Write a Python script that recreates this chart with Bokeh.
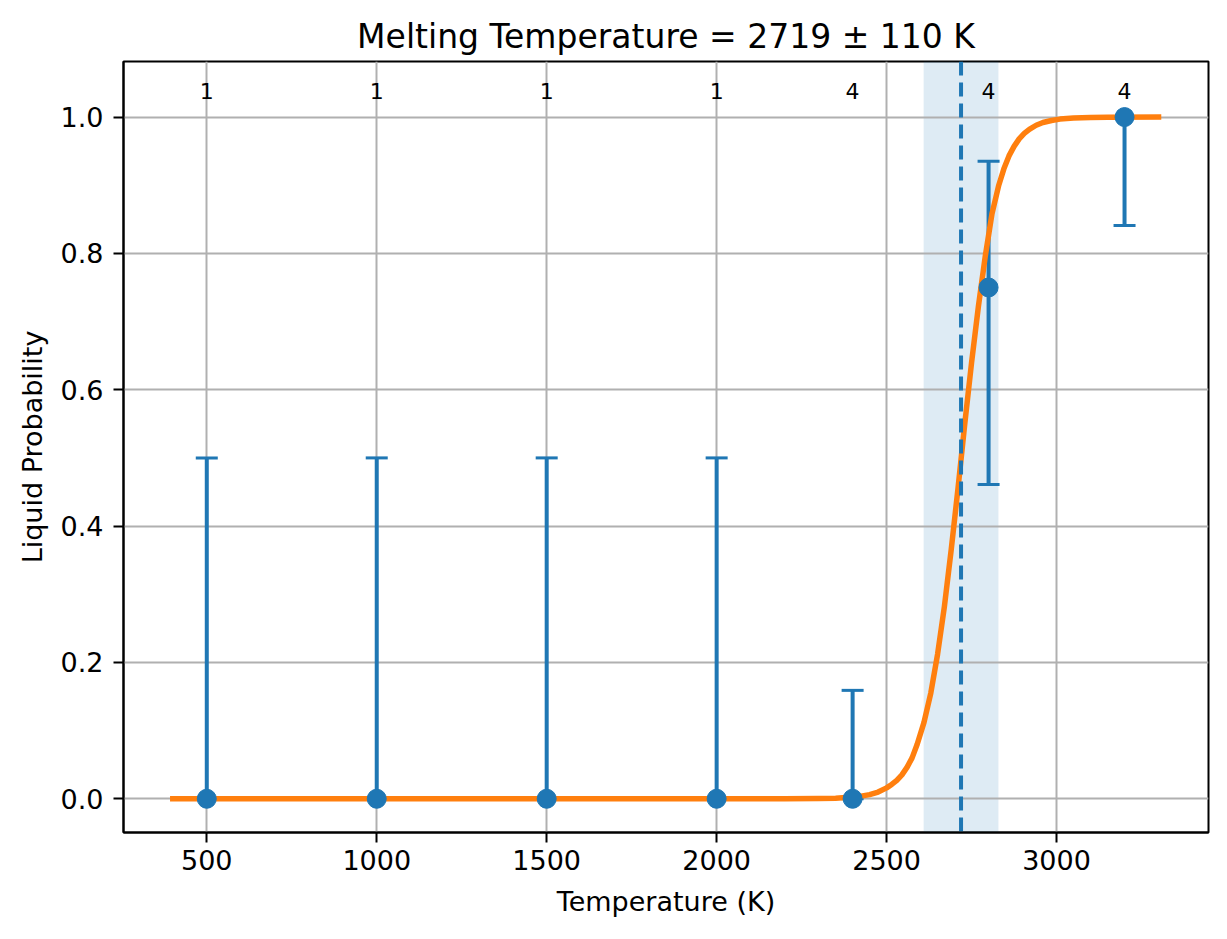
from bokeh.plotting import figure
from bokeh.models import ColumnDataSource, Span, BoxAnnotation, FixedTicker, Range1d
from bokeh.core.properties import value
from bokeh.embed import file_html
from bokeh.resources import INLINE

# measured points: temperature, liquid probability and error bounds
temps = [500, 1000, 1500, 2000, 2400, 2800, 3200]
prob = [0.0, 0.0, 0.0, 0.0, 0.0, 0.75, 1.0]
err_lo = [0.0, 0.0, 0.0, 0.0, 0.0, 0.461, 0.841]
err_hi = [0.5, 0.5, 0.5, 0.5, 0.159, 0.935, 1.0]
counts = ["1", "1", "1", "1", "4", "4", "4"]

# fitted curve
fit_t = [400, 2000, 2200, 2300, 2350, 2400, 2425, 2450, 2475, 2500, 2515, 2530,
         2545, 2560, 2575, 2590, 2610, 2630, 2650, 2670, 2690, 2710, 2730, 2750,
         2770, 2790, 2810, 2830, 2845, 2860, 2875, 2890, 2905, 2920, 2940, 2960,
         2985, 3010, 3050, 3100, 3150, 3300]
fit_p = [0.0, 0.0, 0.0001, 0.0004, 0.0009, 0.0024, 0.0038, 0.006, 0.0098, 0.016,
         0.021, 0.027, 0.035, 0.046, 0.060, 0.080, 0.112, 0.155, 0.212, 0.282,
         0.365, 0.455, 0.550, 0.640, 0.722, 0.795, 0.858, 0.900, 0.924, 0.943,
         0.957, 0.968, 0.976, 0.982, 0.988, 0.992, 0.995, 0.997, 0.9985, 0.9993,
         0.9997, 1.0]

t_melt = 2719
t_err = 110

x_ticks = [500, 1000, 1500, 2000, 2500, 3000]
y_ticks = [0.0, 0.2, 0.4, 0.6, 0.8, 1.0]

BLUE = "#1f77b4"
ORANGE = "#ff7f0e"
FONT = "DejaVu Sans"

p = figure(
    width=1211, height=923,
    x_range=Range1d(255, 3447), y_range=Range1d(-0.0495, 1.0815),
    title=f"Melting Temperature = {t_melt} \u00b1 {t_err} K",
    x_axis_label="Temperature (K)", y_axis_label="Liquid Probability",
    output_backend="svg", toolbar_location=None,
    min_border_left=123, min_border_right=3, min_border_top=61, min_border_bottom=91,
)

p.title.align = "center"
p.title.text_font = FONT
p.title.text_font_size = "33px"
p.title.text_font_style = "normal"
p.title.text_color = "black"
p.title.standoff = 12

for ax in (p.xaxis, p.yaxis):
    ax.axis_label_text_font = FONT
    ax.axis_label_text_font_size = "27px"
    ax.axis_label_text_font_style = "normal"
    ax.axis_label_text_color = "black"
    ax.major_label_text_font = FONT
    ax.major_label_text_font_size = "27px"
    ax.major_label_text_color = "black"
    ax.axis_line_color = "black"
    ax.axis_line_width = 2
    ax.major_tick_line_color = "black"
    ax.major_tick_line_width = 2
    ax.major_tick_out = 10
    ax.major_tick_in = 0
    ax.minor_tick_line_color = None

p.xaxis.ticker = FixedTicker(ticks=x_ticks)
p.yaxis.ticker = FixedTicker(ticks=y_ticks)
p.yaxis.major_label_overrides = {v: f"{v:.1f}" for v in y_ticks}
p.xaxis.major_label_standoff = 7
p.yaxis.major_label_standoff = 10
p.xaxis.axis_label_standoff = 13
p.yaxis.axis_label_standoff = 10

p.outline_line_color = "black"
p.outline_line_width = 2
p.outline_line_alpha = 1

for g in (p.xgrid, p.ygrid):
    g.grid_line_color = "#b0b0b0"
    g.grid_line_width = 2

# uncertainty band and melting point
band = BoxAnnotation(left=t_melt - t_err, right=t_melt + t_err,
                     fill_color=BLUE, fill_alpha=0.15, line_color=None, level="image")
p.add_layout(band)

src = ColumnDataSource(dict(t=temps, p=prob, lo=err_lo, hi=err_hi, n=counts))

# error bars
p.segment(x0="t", y0="lo", x1="t", y1="hi", source=src, line_color=BLUE, line_width=4)
p.scatter(x="t", y="lo", source=src, marker="dash", size=22, line_color=BLUE, line_width=3)
p.scatter(x="t", y="hi", source=src, marker="dash", size=22, line_color=BLUE, line_width=3)

vline = Span(location=t_melt, dimension="height", line_color=BLUE,
             line_width=4, line_dash="14 7", level="glyph")
p.add_layout(vline)

# fitted curve
p.line(fit_t, fit_p, line_color=ORANGE, line_width=5.5, line_cap="square", line_join="round")

# data points
p.scatter(x="t", y="p", source=src, size=19, fill_color=BLUE, line_color=BLUE)

# sample counts
label_y = [1.038] * len(temps)
p.text(x=temps, y=label_y, text=counts, text_align="center", text_baseline="middle",
       text_font=value(FONT), text_font_size="22px", text_color="black")

open("out.html", "w").write(file_html(p, INLINE))
